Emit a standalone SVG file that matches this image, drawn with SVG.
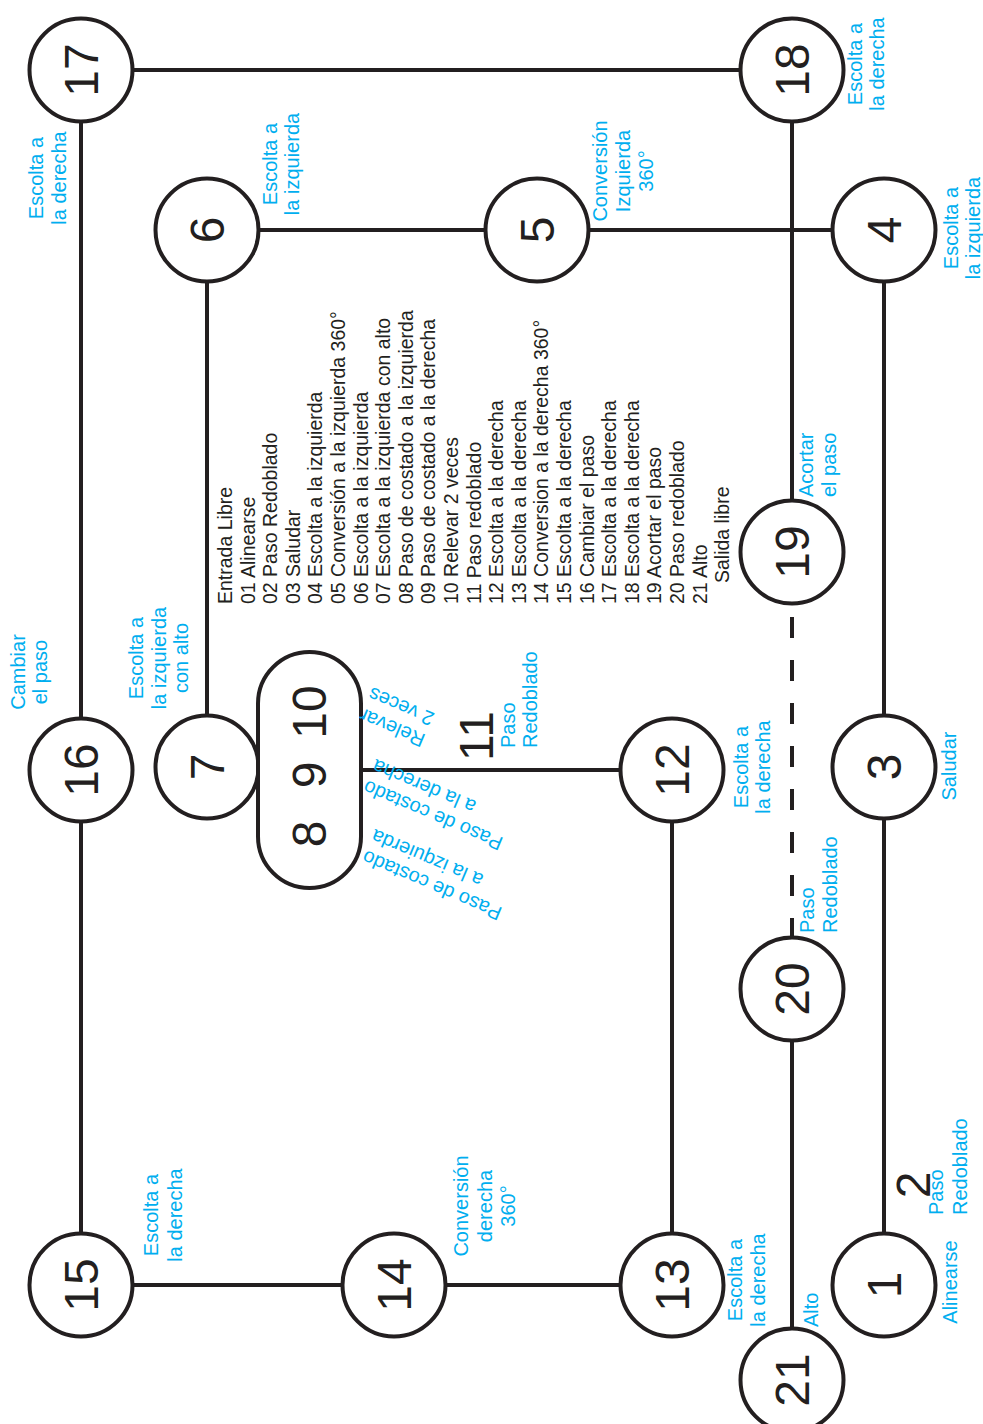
<svg xmlns="http://www.w3.org/2000/svg" width="983" height="1424" viewBox="0 0 983 1424">
<style>
.ln{stroke:#231f20;stroke-width:4;fill:none}
.dash{stroke-dasharray:21 22}
.nd{fill:#fff;stroke:#231f20;stroke-width:4}
.num{font-family:"Liberation Sans",Arial,sans-serif;font-size:48px;fill:#231f20;text-anchor:middle}
.lbl{font-family:"Liberation Sans",Arial,sans-serif;font-size:20px;fill:#00aeef}
.mid{text-anchor:middle}
.end{text-anchor:end}
.list{font-family:"Liberation Sans",Arial,sans-serif;font-size:19.5px;fill:#231f20}
</style>
<rect width="983" height="1424" fill="#fff"/>
<g id="connectors">
<line class="ln" x1="81" y1="70" x2="792" y2="70"/>
<line class="ln" x1="81" y1="70" x2="81" y2="1285"/>
<line class="ln" x1="81" y1="1285" x2="672" y2="1285"/>
<line class="ln" x1="672" y1="1285" x2="672" y2="770"/>
<line class="ln" x1="310" y1="770" x2="672" y2="770"/>
<line class="ln" x1="207" y1="767" x2="207" y2="230"/>
<line class="ln" x1="207" y1="230" x2="884" y2="230"/>
<line class="ln" x1="792" y1="70" x2="792" y2="552"/>
<line class="ln dash" x1="792" y1="617" x2="792" y2="940"/>
<line class="ln" x1="792" y1="989" x2="792" y2="1380"/>
<line class="ln" x1="884" y1="230" x2="884" y2="1285"/>
</g>
<g id="node-17"><circle class="nd" cx="81" cy="70" r="51.5"/><text class="num" transform="translate(98,70) rotate(-90)">17</text></g>
<g id="node-18"><circle class="nd" cx="792" cy="70" r="51.5"/><text class="num" transform="translate(809,70) rotate(-90)">18</text></g>
<g id="node-6"><circle class="nd" cx="207" cy="230" r="51.5"/><text class="num" transform="translate(224,230) rotate(-90)">6</text></g>
<g id="node-5"><circle class="nd" cx="537" cy="230" r="51.5"/><text class="num" transform="translate(554,230) rotate(-90)">5</text></g>
<g id="node-4"><circle class="nd" cx="884" cy="230" r="51.5"/><text class="num" transform="translate(901,230) rotate(-90)">4</text></g>
<g id="node-16"><circle class="nd" cx="81" cy="770" r="51.5"/><text class="num" transform="translate(98,770) rotate(-90)">16</text></g>
<g id="node-7"><circle class="nd" cx="207" cy="767" r="51.5"/><text class="num" transform="translate(224,767) rotate(-90)">7</text></g>
<g id="node-8-9-10"><rect class="nd" x="258" y="652" width="103" height="236" rx="51.5" ry="51.5"/>
<text class="num" transform="translate(326,834) rotate(-90)">8</text>
<text class="num" transform="translate(326,775) rotate(-90)">9</text>
<text class="num" transform="translate(326,712) rotate(-90)">10</text></g>
<g id="node-12"><circle class="nd" cx="672" cy="770" r="51.5"/><text class="num" transform="translate(689,770) rotate(-90)">12</text></g>
<g id="node-3"><circle class="nd" cx="884" cy="767" r="51.5"/><text class="num" transform="translate(901,767) rotate(-90)">3</text></g>
<g id="node-19"><circle class="nd" cx="792" cy="552" r="51.5"/><text class="num" transform="translate(809,552) rotate(-90)">19</text></g>
<g id="node-20"><circle class="nd" cx="792" cy="989" r="51.5"/><text class="num" transform="translate(809,989) rotate(-90)">20</text></g>
<g id="node-15"><circle class="nd" cx="81" cy="1285" r="51.5"/><text class="num" transform="translate(98,1285) rotate(-90)">15</text></g>
<g id="node-14"><circle class="nd" cx="394" cy="1285" r="51.5"/><text class="num" transform="translate(411,1285) rotate(-90)">14</text></g>
<g id="node-13"><circle class="nd" cx="672" cy="1285" r="51.5"/><text class="num" transform="translate(689,1285) rotate(-90)">13</text></g>
<g id="node-1"><circle class="nd" cx="884" cy="1285" r="51.5"/><text class="num" transform="translate(901,1285) rotate(-90)">1</text></g>
<g id="node-21"><circle class="nd" cx="792" cy="1380" r="51.5"/><text class="num" transform="translate(809,1380) rotate(-90)">21</text></g>
<g id="step-11"><text class="num" transform="translate(493,736) rotate(-90)">11</text></g>
<g id="step-2"><text class="num" transform="translate(930,1185) rotate(-90)">2</text></g>
<g id="labels">
<text class="lbl mid" transform="translate(43,178) rotate(-90)"><tspan x="0" y="0">Escolta a</tspan><tspan x="0" y="23">la derecha</tspan></text>
<text class="lbl mid" transform="translate(277,164) rotate(-90)"><tspan x="0" y="0">Escolta a</tspan><tspan x="0" y="22">la izquierda</tspan></text>
<text class="lbl mid" transform="translate(607,171) rotate(-90)"><tspan x="0" y="0">Conversión</tspan><tspan x="0" y="23">Izquierda</tspan><tspan x="0" y="46">360°</tspan></text>
<text class="lbl mid" transform="translate(862,64) rotate(-90)"><tspan x="0" y="0">Escolta a</tspan><tspan x="0" y="22">la derecha</tspan></text>
<text class="lbl mid" transform="translate(958,228) rotate(-90)"><tspan x="0" y="0">Escolta a</tspan><tspan x="0" y="22">la izquierda</tspan></text>
<text class="lbl mid" transform="translate(25,672) rotate(-90)"><tspan x="0" y="0">Cambiar</tspan><tspan x="0" y="22">el paso</tspan></text>
<text class="lbl mid" transform="translate(143,658) rotate(-90)"><tspan x="0" y="0">Escolta a</tspan><tspan x="0" y="22.5">la izquierda</tspan><tspan x="0" y="45">con alto</tspan></text>
<text class="lbl" transform="translate(515,748) rotate(-90)"><tspan x="0" y="0">Paso</tspan><tspan x="0" y="22">Redoblado</tspan></text>
<text class="lbl mid" transform="translate(748,767) rotate(-90)"><tspan x="0" y="0">Escolta a</tspan><tspan x="0" y="22">la derecha</tspan></text>
<text class="lbl" transform="translate(813,497) rotate(-90)"><tspan x="0" y="0">Acortar</tspan><tspan x="0" y="23">el paso</tspan></text>
<text class="lbl mid" transform="translate(956,766) rotate(-90)">Saludar</text>
<text class="lbl" transform="translate(814,933) rotate(-90)"><tspan x="0" y="0">Paso</tspan><tspan x="0" y="23">Redoblado</tspan></text>
<text class="lbl mid" transform="translate(468,1206) rotate(-90)"><tspan x="0" y="0">Conversión</tspan><tspan x="0" y="23.5">derecha</tspan><tspan x="0" y="47">360°</tspan></text>
<text class="lbl mid" transform="translate(158,1215) rotate(-90)"><tspan x="0" y="0">Escolta a</tspan><tspan x="0" y="24">la derecha</tspan></text>
<text class="lbl mid" transform="translate(742,1280) rotate(-90)"><tspan x="0" y="0">Escolta a</tspan><tspan x="0" y="23">la derecha</tspan></text>
<text class="lbl" transform="translate(818,1327) rotate(-90)">Alto</text>
<text class="lbl mid" transform="translate(957,1282) rotate(-90)">Alinearse</text>
<text class="lbl" transform="translate(943,1215) rotate(-90)"><tspan x="0" y="0">Paso</tspan><tspan x="0" y="24">Redoblado</tspan></text>
<text class="lbl end" transform="translate(363,708) rotate(203)"><tspan x="0" y="0">Relevar</tspan><tspan x="0" y="23">2 veces</tspan></text>
<text class="lbl end" transform="translate(367,780) rotate(203)"><tspan x="0" y="0">Paso de costado</tspan><tspan x="0" y="23">a la derecha</tspan></text>
<text class="lbl end" transform="translate(366,850) rotate(203)"><tspan x="0" y="0">Paso de costado</tspan><tspan x="0" y="23">a la izquierda</tspan></text>
</g>
<g id="legend">
<text class="list" transform="translate(232,604) rotate(-90)">
<tspan x="0" y="0">Entrada Libre</tspan>
<tspan x="0" dy="22.6">01 Alinearse</tspan>
<tspan x="0" dy="22.6">02 Paso Redoblado</tspan>
<tspan x="0" dy="22.6">03 Saludar</tspan>
<tspan x="0" dy="22.6">04 Escolta a la izquierda</tspan>
<tspan x="0" dy="22.6">05 Conversión a la izquierda 360°</tspan>
<tspan x="0" dy="22.6">06 Escolta a la izquierda</tspan>
<tspan x="0" dy="22.6">07 Escolta a la izquierda con alto</tspan>
<tspan x="0" dy="22.6">08 Paso de costado a la izquierda</tspan>
<tspan x="0" dy="22.6">09 Paso de costado a la derecha</tspan>
<tspan x="0" dy="22.6">10 Relevar 2 veces</tspan>
<tspan x="0" dy="22.6">11 Paso redoblado</tspan>
<tspan x="0" dy="22.6">12 Escolta a la derecha</tspan>
<tspan x="0" dy="22.6">13 Escolta a la derecha</tspan>
<tspan x="0" dy="22.6">14 Conversion a la derecha 360°</tspan>
<tspan x="0" dy="22.6">15 Escolta a la derecha</tspan>
<tspan x="0" dy="22.6">16 Cambiar el paso</tspan>
<tspan x="0" dy="22.6">17 Escolta a la derecha</tspan>
<tspan x="0" dy="22.6">18 Escolta a la derecha</tspan>
<tspan x="0" dy="22.6">19 Acortar el paso</tspan>
<tspan x="0" dy="22.6">20 Paso redoblado</tspan>
<tspan x="0" dy="22.6">21 Alto</tspan>
<tspan x="21" dy="22.6">Salida libre</tspan>
</text>
</g>
</svg>
